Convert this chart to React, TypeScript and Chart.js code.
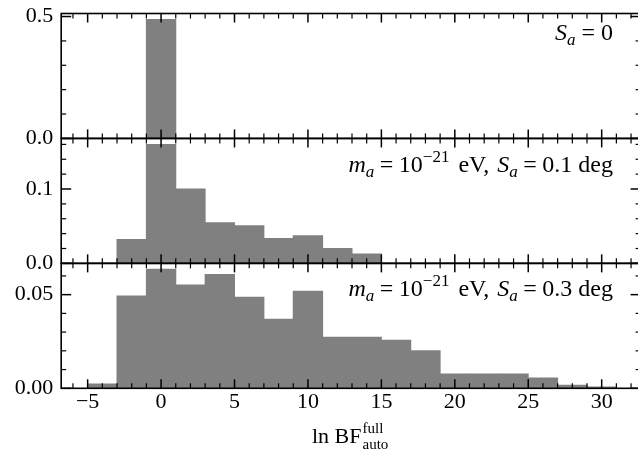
import React, { useEffect, useRef } from 'react';
import { Chart, registerables } from 'chart.js';
Chart.register(...registerables);

// ---------- data ----------
const binCenters = [-4, -2, 0, 2, 4, 6, 8, 10, 12, 14, 16, 18, 20, 22, 24, 26, 28, 30];
const valuesTop = [0, 0, 0.488, 0, 0, 0, 0, 0, 0, 0, 0, 0, 0, 0, 0, 0, 0, 0];
const valuesMid = [0, 0.032, 0.16, 0.1, 0.0547, 0.0507, 0.0333, 0.0373, 0.02, 0.0125, 0, 0, 0, 0, 0, 0, 0, 0];
const valuesBot = [0.0023, 0.0493, 0.0635, 0.0551, 0.0608, 0.0486, 0.0369, 0.0518, 0.0273, 0.0273, 0.0257, 0.02, 0.0076, 0.0076, 0.0076, 0.0055, 0.0016, 0.0007];

const xMajorTicks = [-5, 0, 5, 10, 15, 20, 25, 30];
const xMinorStep = 1;
const xMin = -6.8;
const xMax = 32.65;

const yMaxTop = 0.5124;
const yMaxMid = 0.168;
const yMaxBot = 0.0667;
const yMajorTop = [0, 0.5];
const yMajorMid = [0, 0.1];
const yMajorBot = [0, 0.05];
const yMinorStepTop = 0.1;
const yMinorStepMid = 0.02;
const yMinorStepBot = 0.01;
const yDecTop = 1;
const yDecMid = 1;
const yDecBot = 2;

type Seg = { t: string; it?: boolean; sub?: boolean; sup?: boolean; gap?: number };
const labelTop: Seg[] = [{ t: 'S', it: true }, { t: 'a', it: true, sub: true }, { t: '=', gap: 6 }, { t: '0' }];
const labelMid: Seg[] = [
  { t: 'm', it: true }, { t: 'a', it: true, sub: true }, { t: '=', gap: 5.5 }, { t: '10' }, { t: '\u221221', sup: true },
  { t: ' eV,', gap: 3 }, { t: 'S', it: true, gap: 8 }, { t: 'a', it: true, sub: true }, { t: '=', gap: 5.5 }, { t: '0.1 deg' },
];
const labelBot: Seg[] = [
  { t: 'm', it: true }, { t: 'a', it: true, sub: true }, { t: '=', gap: 5.5 }, { t: '10' }, { t: '\u221221', sup: true },
  { t: ' eV,', gap: 3 }, { t: 'S', it: true, gap: 8 }, { t: 'a', it: true, sub: true }, { t: '=', gap: 5.5 }, { t: '0.3 deg' },
];
const xTitleMain = 'ln BF';
const xTitleSup = 'full';
const xTitleSub = 'auto';

// ---------- style ----------
const FONT = '"Liberation Serif", "Times New Roman", serif';
const FS = 22;
const AFS = 24;
const BAR = '#808080';
const MAJ = 9;
const MIN = 5;

const panels = [
  { id: 'yTop', vals: valuesTop, max: yMaxTop, major: yMajorTop, minor: yMinorStepTop, dec: yDecTop, label: labelTop, lblDy: 26.5 },
  { id: 'yMid', vals: valuesMid, max: yMaxMid, major: yMajorMid, minor: yMinorStepMid, dec: yDecMid, label: labelMid, lblDy: 34 },
  { id: 'yBot', vals: valuesBot, max: yMaxBot, major: yMajorBot, minor: yMinorStepBot, dec: yDecBot, label: labelBot, lblDy: 33 },
];

function segFont(s: Seg) {
  const size = s.sub || s.sup ? Math.round(AFS * 0.7) : AFS;
  return `${s.it ? 'italic ' : ''}${size}px ${FONT}`;
}

function drawRich(ctx: CanvasRenderingContext2D, segs: Seg[], xRight: number, base: number) {
  let total = 0;
  const ws = segs.map((s) => {
    ctx.font = segFont(s);
    const g = s.gap ?? 0;
    const w = ctx.measureText(s.t).width + (s.t === '=' ? 2 * g : g);
    total += w;
    return w;
  });
  let x = xRight - total;
  ctx.textAlign = 'left';
  ctx.textBaseline = 'alphabetic';
  segs.forEach((s, i) => {
    ctx.font = segFont(s);
    const dy = s.sub ? 5 : s.sup ? -10 : 0;
    ctx.fillText(s.t, x + (s.gap ?? 0), base + dy);
    x += ws[i];
  });
}

const framePlugin = {
  id: 'frame',
  afterDatasetsDraw(chart: any) {
    const ctx: CanvasRenderingContext2D = chart.ctx;
    const xs = chart.scales.x;
    const L = chart.chartArea.left;
    const R = chart.chartArea.right;
    ctx.save();
    ctx.strokeStyle = '#000';
    ctx.fillStyle = '#000';
    const seg = (x1: number, y1: number, x2: number, y2: number, w: number) => {
      ctx.lineWidth = w;
      ctx.beginPath();
      ctx.moveTo(x1, y1);
      ctx.lineTo(x2, y2);
      ctx.stroke();
    };
    panels.forEach((p) => {
      const ys = chart.scales[p.id];
      const T = ys.top;
      const B = ys.bottom;
      ctx.lineWidth = 1.6;
      ctx.strokeRect(L, T, R - L, B - T);
      for (let k = Math.ceil(xMin / xMinorStep); k * xMinorStep <= xMax; k++) {
        const v = k * xMinorStep;
        const major = xMajorTicks.includes(v);
        const len = major ? MAJ : MIN;
        const px = xs.getPixelForValue(v);
        seg(px, B, px, B - len, major ? 1.5 : 1.2);
        seg(px, T, px, T + len, major ? 1.5 : 1.2);
      }
      for (let k = 0; k * p.minor <= p.max + 1e-9; k++) {
        const v = k * p.minor;
        const major = p.major.some((m) => Math.abs(m - v) < 1e-9);
        const len = major ? MAJ + 1 : MIN;
        const py = ys.getPixelForValue(v);
        seg(L, py, L + len, py, major ? 1.5 : 1.2);
        seg(R, py, R - len, py, major ? 1.5 : 1.2);
      }
      drawRich(ctx, p.label, 613, T + p.lblDy);
    });
    const bottom = chart.scales[panels[2].id].bottom;
    ctx.font = `${FS}px ${FONT}`;
    ctx.textAlign = 'left';
    ctx.textBaseline = 'alphabetic';
    const xt = 312;
    const bl = bottom + 55;
    ctx.fillText(xTitleMain, xt, bl);
    const w0 = ctx.measureText(xTitleMain).width;
    ctx.font = `${Math.round(FS * 0.7)}px ${FONT}`;
    ctx.fillText(xTitleSup, xt + w0 + 1, bl - 10);
    ctx.fillText(xTitleSub, xt + w0 + 1, bl + 6);
    ctx.restore();
  },
};

export default function App() {
  const ref = useRef<HTMLCanvasElement>(null);
  useEffect(() => {
    const canvas = ref.current!;
    const scales: any = {
      x: {
        type: 'linear',
        min: xMin,
        max: xMax,
        offset: false,
        position: 'bottom',
        grid: { display: false, drawTicks: false, offset: false },
        border: { display: false },
        afterBuildTicks: (s: any) => {
          s.ticks = xMajorTicks.map((v) => ({ value: v }));
        },
        afterFit: (s: any) => {
          s.height = 63.7;
          s.paddingLeft = 0;
          s.paddingRight = 0;
        },
        ticks: {
          autoSkip: false,
          maxRotation: 0,
          padding: 1,
          color: '#000',
          font: { family: FONT, size: FS },
          callback: (v: any) => String(v).replace('-', '\u2212'),
        },
      },
    };
    [...panels].reverse().forEach((p) => {
      scales[p.id] = {
        type: 'linear',
        position: 'left',
        stack: 'panels',
        stackWeight: 1,
        min: 0,
        max: p.max,
        grid: { display: false, drawTicks: false },
        border: { display: false },
        afterBuildTicks: (s: any) => {
          s.ticks = p.major.map((v) => ({ value: v }));
        },
        afterFit: (s: any) => {
          s.width = 61.2;
          s.paddingTop = 0;
          s.paddingBottom = 0;
        },
        ticks: {
          padding: 8,
          color: '#000',
          font: { family: FONT, size: FS },
          callback: (v: any) => Number(v).toFixed(p.dec),
        },
      };
    });
    const chart = new Chart(canvas, {
      type: 'bar',
      data: {
        datasets: panels.map((p) => ({
          data: binCenters.map((c, i) => ({ x: c, y: p.vals[i] })),
          yAxisID: p.id,
          backgroundColor: BAR,
          borderWidth: 0,
          inflateAmount: 0.5,
          grouped: false,
          barPercentage: 1,
          categoryPercentage: 1,
        })),
      },
      options: {
        responsive: false,
        animation: false,
        devicePixelRatio: 1,
        layout: { padding: { left: 0, top: 13.5, right: 660 - 640.6, bottom: 0 } },
        plugins: { legend: { display: false }, tooltip: { enabled: false } },
        scales,
      } as any,
      plugins: [framePlugin],
    } as any);
    return () => chart.destroy();
  }, []);
  return (
    <div style={{ position: 'fixed', left: 0, top: 0, width: 638, height: 452, overflow: 'hidden', background: '#fff' }}>
      <canvas ref={ref} width={660} height={452} style={{ display: 'block', width: 660, height: 452 }} />
    </div>
  );
}
